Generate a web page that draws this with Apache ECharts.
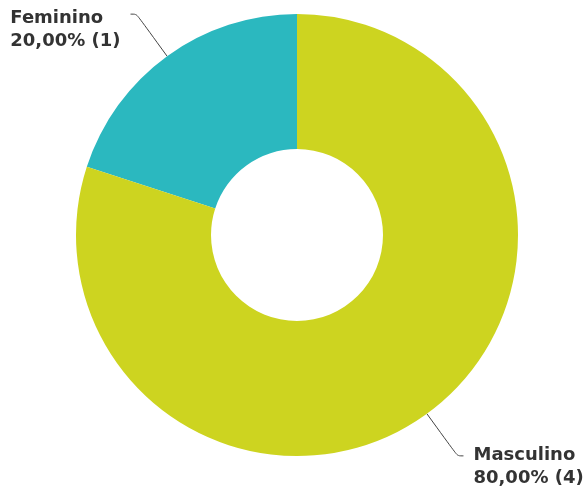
<!DOCTYPE html>
<html>
<head>
<meta charset="utf-8">
<script src="https://cdn.jsdelivr.net/npm/echarts@6/dist/echarts.min.js"></script>
<style>html,body{margin:0;padding:0;background:#fff}#c{width:587px;height:493px}</style>
</head>
<body>
<div id="c"></div>
<script>
const categories = ['Feminino', 'Masculino'];
const values = [1, 4];
const colors = ['#2bb8bf', '#cdd420'];

const chart = echarts.init(document.getElementById('c'), null, {renderer: 'canvas'});
chart.setOption({
  animation: false,
  backgroundColor: '#ffffff',
  series: [{
    type: 'pie',
    center: [297, 235],
    radius: [86, 221],
    startAngle: 90,
    clockwise: false,
    data: categories.map((n, i) => ({name: n, value: values[i], itemStyle: {color: colors[i]}})),
    label: {
      show: true,
      position: 'outside',
      color: '#333333',
      fontFamily: 'DejaVu Sans, Verdana, sans-serif',
      fontWeight: 'bold',
      fontSize: 18,
      lineHeight: 23,
      overflow: 'none',
      distanceToLabelLine: 10,
      formatter: p => p.name + '\n' + p.percent.toFixed(2).replace('.', ',') + '% (' + p.value + ')'
    },
    labelLine: {
      show: true,
      length: 52,
      length2: 6,
      smooth: 0.3,
      lineStyle: {color: '#444', width: 1}
    },
    labelLayout: function (p) {
      const pts = p.labelLinePoints;
      const end = pts[pts.length - 1];
      const isLeft = end[0] < pts[0][0];
      return {
        x: isLeft ? end[0] - 10 - p.labelRect.width : end[0] + 10,
        y: end[1] + (isLeft ? 16 : 11),
        align: 'left',
        verticalAlign: 'middle',
        labelLinePoints: pts
      };
    },
    emphasis: {disabled: true}
  }]
});
</script>
</body>
</html>
